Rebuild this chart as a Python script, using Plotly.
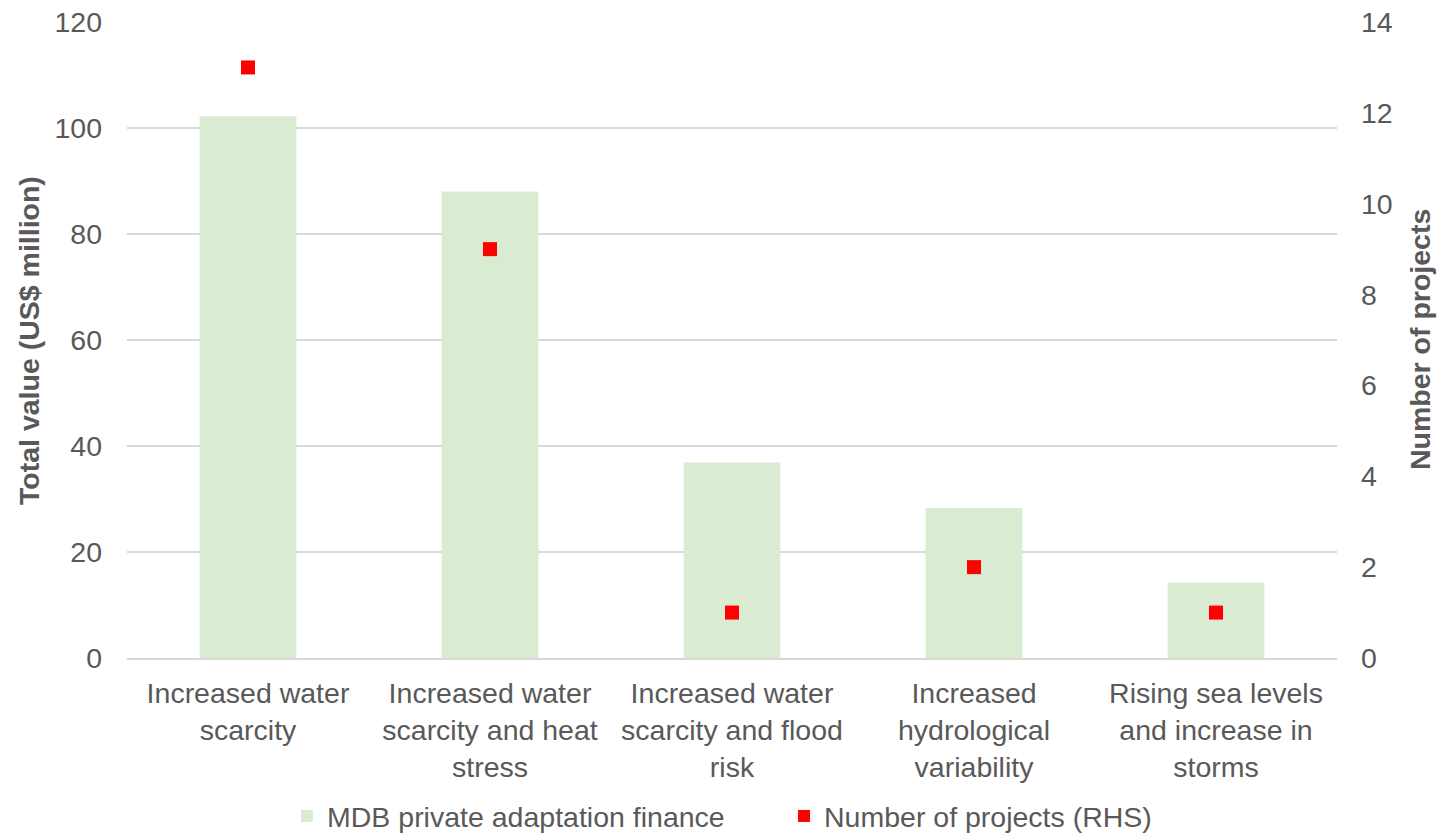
import plotly.graph_objects as go

categories = [
    "Increased water<br>scarcity",
    "Increased water<br>scarcity and heat<br>stress",
    "Increased water<br>scarcity and flood<br>risk",
    "Increased<br>hydrological<br>variability",
    "Rising sea levels<br>and increase in<br>storms",
]
finance_values = [102.2, 88.0, 36.9, 28.3, 14.2]
project_counts = [13, 9, 1, 2, 1]

FONT = "Liberation Sans, Arial, sans-serif"
GRAY = "#595959"
FS = 28.5

fig = go.Figure()
fig.add_trace(go.Bar(
    x=categories, y=finance_values, name="MDB private adaptation finance",
    marker=dict(color="#d9ecd2", line=dict(width=0)), width=0.4,
))
fig.add_trace(go.Scatter(
    x=categories, y=project_counts, name="Number of projects (RHS)",
    mode="markers", yaxis="y2",
    marker=dict(symbol="square", color="#ff0000", size=14, line=dict(width=0)),
))

fig.update_layout(
    width=1439, height=835,
    margin=dict(l=127, r=102, t=22, b=177, autoexpand=False),
    paper_bgcolor="white", plot_bgcolor="white",
    font=dict(family=FONT, size=FS, color=GRAY),
    showlegend=True,
    legend=dict(orientation="h", x=0.543, xanchor="center", y=-0.209, yanchor="top",
                font=dict(size=FS, color=GRAY), itemsizing="constant", tracegroupgap=0,
                entrywidth=452, entrywidthmode="pixels"),
    xaxis=dict(showgrid=False, showline=True, linecolor="#d9d9d9", linewidth=2,
               ticks="", ticklabelstandoff=9, automargin=False,
               tickfont=dict(size=FS, color=GRAY)),
    yaxis=dict(range=[0, 120], dtick=20, showgrid=True, gridcolor="#d9d9d9", gridwidth=1.5,
               zeroline=False, showline=False, ticks="", ticklabelstandoff=24, automargin=False,
               tickfont=dict(size=FS, color=GRAY)),
    yaxis2=dict(range=[0, 14], dtick=2, overlaying="y", side="right", showgrid=False,
                zeroline=False, showline=False, ticks="", ticklabelstandoff=23, automargin=False,
                tickfont=dict(size=FS, color=GRAY)),
    bargap=0.6,
    annotations=[
        dict(text="<b>Total value (US$ million)</b>", xref="paper", yref="paper",
             x=-0.081, y=0.5, xanchor="center", yanchor="middle", textangle=-90,
             showarrow=False, font=dict(size=FS, color=GRAY)),
        dict(text="<b>Number of projects</b>", xref="paper", yref="paper",
             x=1.0686, y=0.5, xanchor="center", yanchor="middle", textangle=-90,
             showarrow=False, font=dict(size=FS, color=GRAY)),
    ],
)

fig.write_html(
    "out.html",
    config={"displayModeBar": False},
    post_script="document.body.style.margin='0';document.body.style.overflow='hidden';",
)
